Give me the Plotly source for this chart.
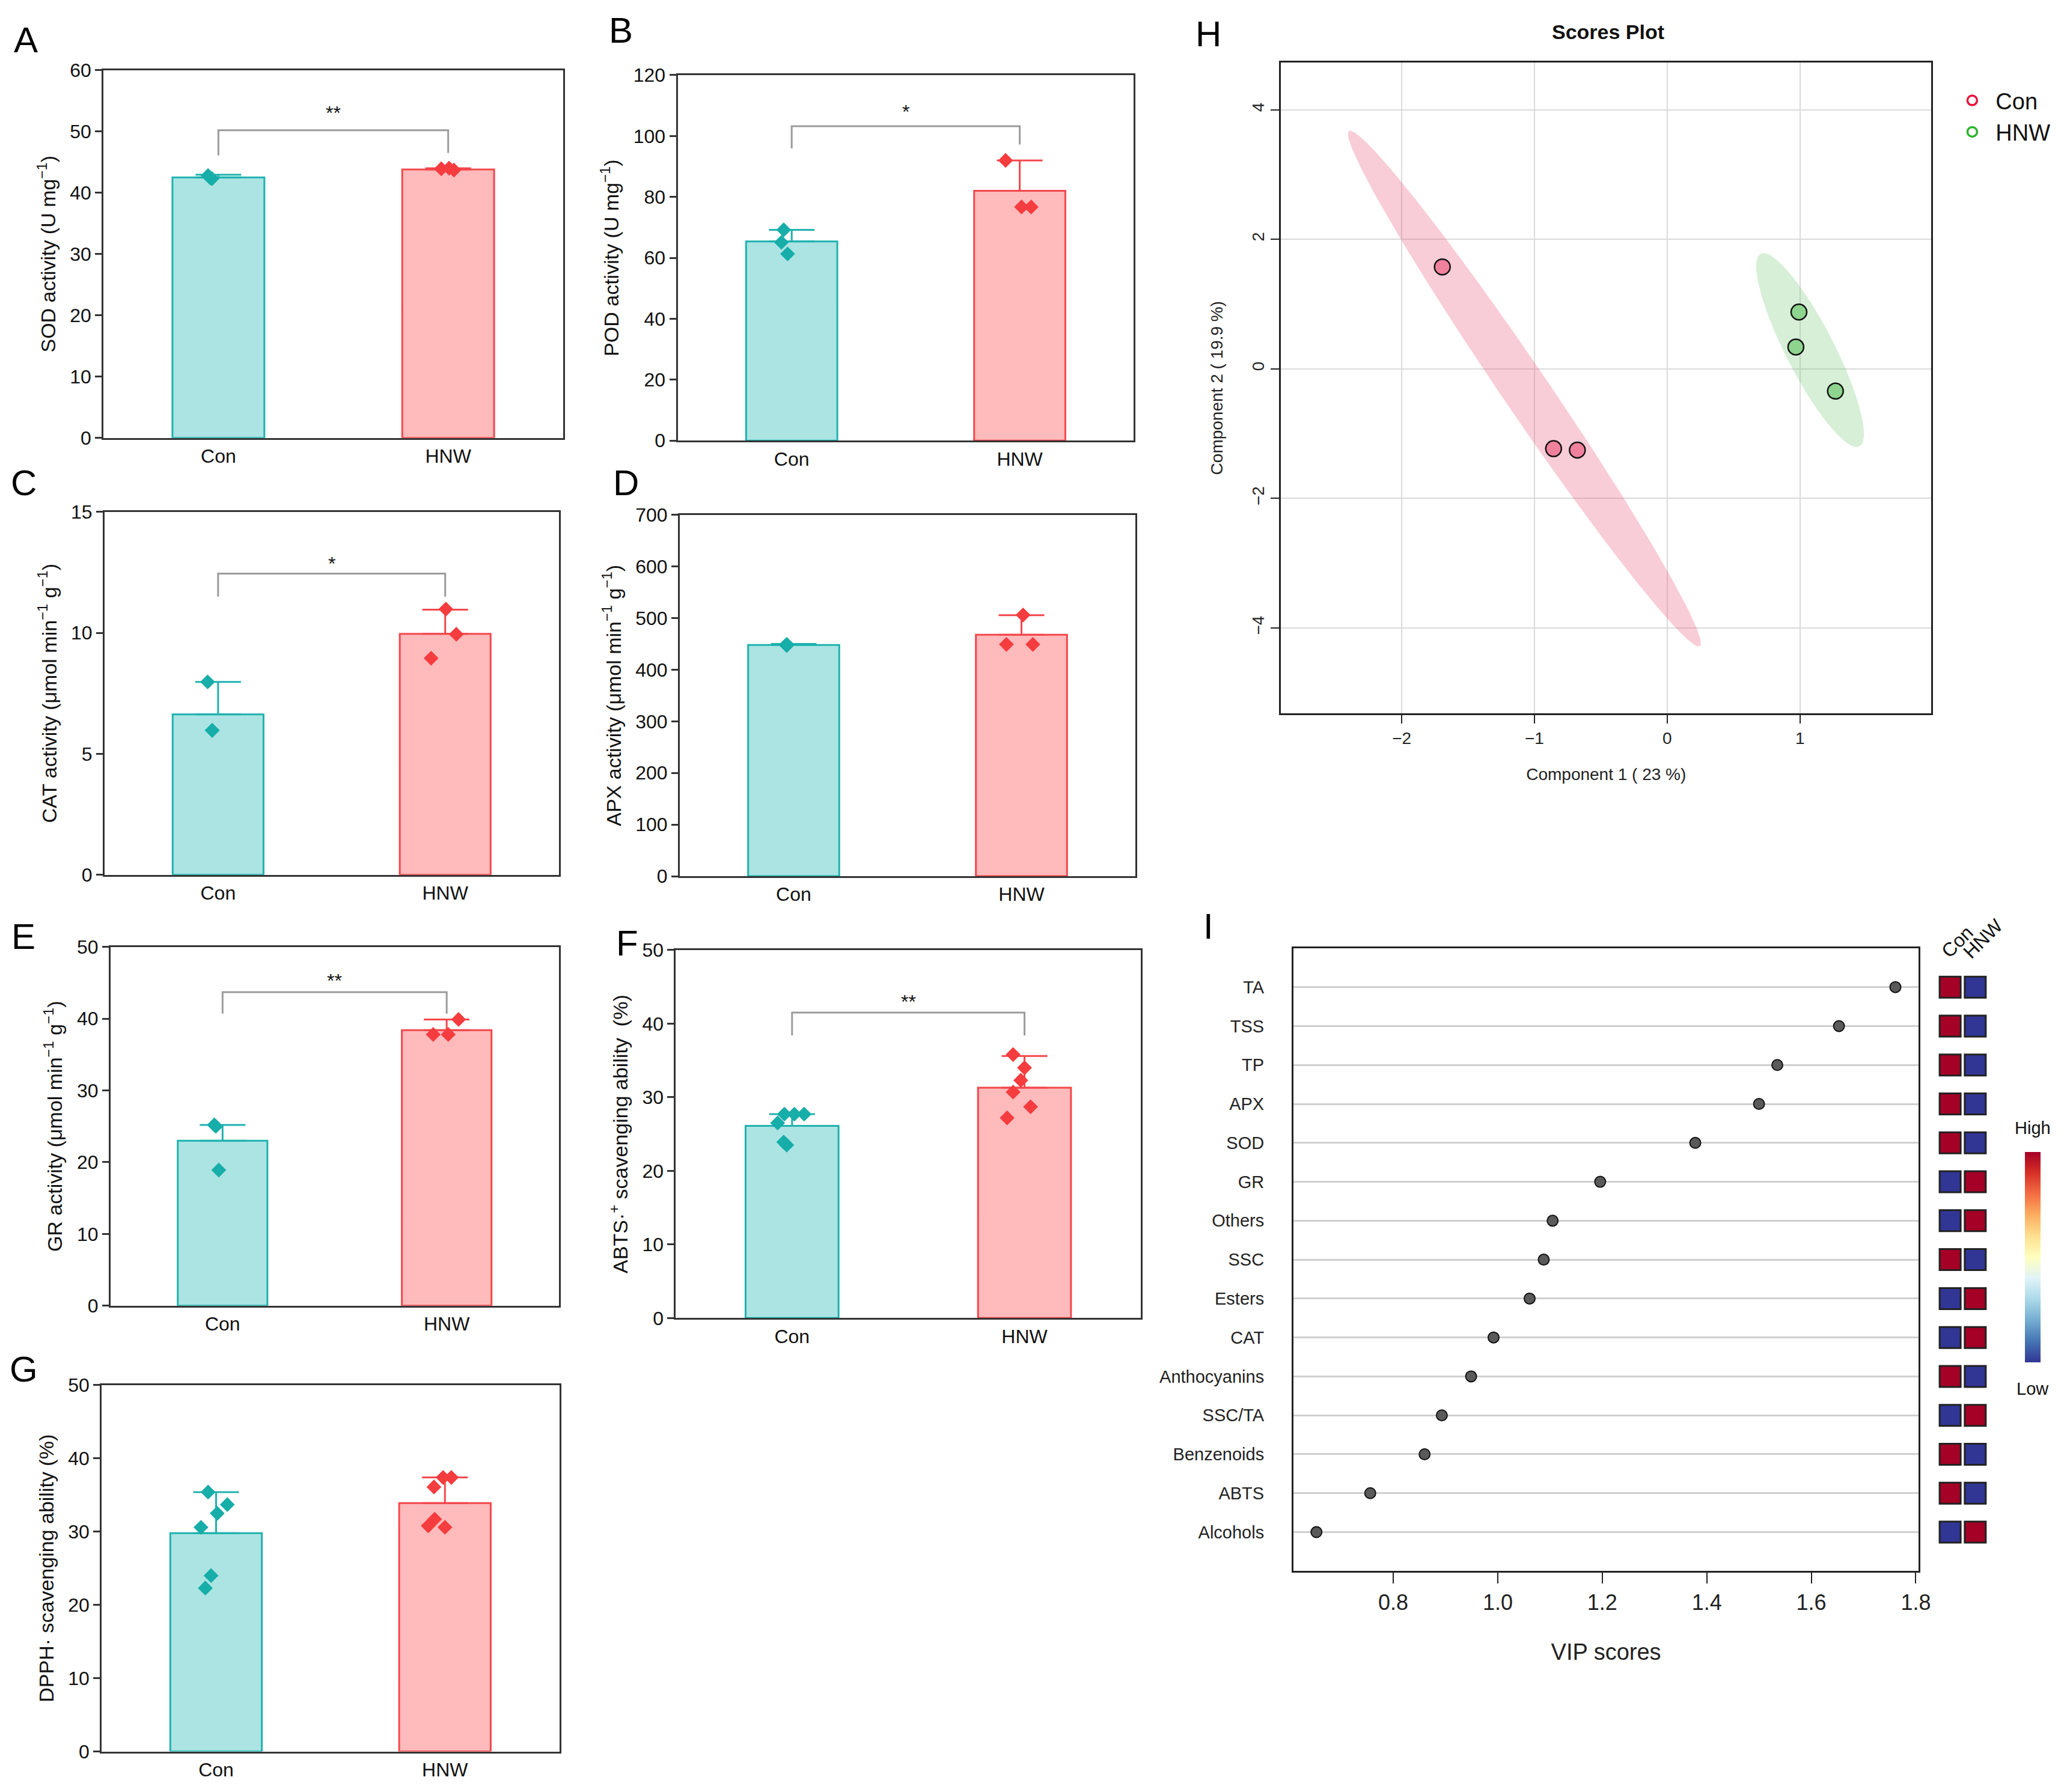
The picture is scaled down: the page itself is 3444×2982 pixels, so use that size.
import numpy as np
import plotly.graph_objects as go

# ---- data ----
groups = ['Con', 'HNW']

sod_mean = [42.5, 43.8]
sod_err = [0.45, 0.2]
sod_con = [42.8, 42.3, 42.4]
sod_hnw = [43.9, 44.0, 43.7]

pod_mean = [65.4, 82.0]
pod_err = [3.8, 10.0]
pod_con = [69.2, 65.1, 61.3]
pod_hnw = [92.0, 76.7, 76.7]

cat_mean = [6.63, 9.96]
cat_err = [1.34, 1.0]
cat_con = [7.97, 5.97, 5.97]
cat_hnw = [10.98, 9.94, 8.95]

apx_mean = [448, 467.7]
apx_err = [2, 38]
apx_con = [448, 447, 449]
apx_hnw = [506, 449, 449]

gr_mean = [23.0, 38.4]
gr_err = [2.2, 1.5]
gr_con = [25.2, 18.9, 25.0]
gr_hnw = [39.9, 37.8, 37.8]

abts_mean = [26.1, 31.3]
abts_err = [1.6, 4.3]
abts_con = [27.7, 27.7, 27.7, 26.5, 23.9, 23.5]
abts_hnw = [35.8, 34.0, 32.3, 30.7, 28.7, 27.2]

dpph_mean = [29.8, 33.9]
dpph_err = [5.6, 3.5]
dpph_con = [35.4, 33.7, 32.5, 30.6, 24.0, 22.3]
dpph_hnw = [37.4, 37.4, 36.1, 31.7, 30.8, 30.6]

# PLS-DA scores (panel H)
con_c1 = [-1.694, -0.856, -0.677]
con_c2 = [1.574, -1.233, -1.255]
hnw_c1 = [0.992, 0.969, 1.267]
hnw_c2 = [0.877, 0.337, -0.344]

# VIP scores (panel I)
vip_names = ['TA', 'TSS', 'TP', 'APX', 'SOD', 'GR', 'Others', 'SSC', 'Esters',
             'CAT', 'Anthocyanins', 'SSC/TA', 'Benzenoids', 'ABTS', 'Alcohols']
vip_scores = [1.761, 1.653, 1.535, 1.500, 1.378, 1.196, 1.105, 1.088, 1.061,
              0.992, 0.949, 0.893, 0.860, 0.756, 0.653]
heat_con = [1, 1, 1, 1, 1, 0, 0, 1, 0, 0, 1, 0, 1, 1, 0]
heat_hnw = [0, 0, 0, 0, 0, 1, 1, 0, 1, 1, 0, 1, 0, 0, 1]

# ---- styling ----
FONT = 'Liberation Sans, Arial, sans-serif'
NARROW = 'Liberation Sans Narrow, Liberation Sans, Arial, sans-serif'
bar_fill = ['#ABE4E3', '#FFBABB']
bar_edge = ['#1FB2AE', '#F4474C']
dot_col = ['#17ADA9', '#F53C3F']
bracket_col = '#9B9B9B'

bar_panels = [
    dict(letter='A', n=1, title='SOD activity (U mg<sup>−1</sup>)',
         mean=sod_mean, err=sod_err, pts=[sod_con, sod_hnw], ymax=60, dtick=10,
         jit=[[-0.045, -0.028, -0.035], [-0.03, 0.004, 0.025]],
         sig='**', sig_y=(46.1, 46.5, 50.2, 53.0),
         dom=([0.0503, 0.2736], [0.7587, 0.9665]), lab=(0.0125, 0.9834), font=FONT),
    dict(letter='B', n=2, title='POD activity (U mg<sup>−1</sup>)',
         mean=pod_mean, err=pod_err, pts=[pod_con, pod_hnw], ymax=120, dtick=20,
         jit=[[-0.035, -0.045, -0.018], [-0.062, 0.008, 0.05]],
         sig='*', sig_y=(95.9, 97.2, 103.2, 108.0),
         dom=([0.3293, 0.5509], [0.7572, 0.9637]), lab=(0.3017, 0.989), font=FONT),
    dict(letter='C', n=3, title='CAT activity (μmol min<sup>−1</sup> g<sup>−1</sup>)',
         mean=cat_mean, err=cat_err, pts=[cat_con, cat_hnw], ymax=15, dtick=5,
         jit=[[-0.046, -0.026, -0.026], [0.003, 0.049, -0.062]],
         sig='*', sig_y=(11.5, 11.5, 12.45, 12.85),
         dom=([0.0508, 0.2715], [0.512, 0.717]), lab=(0.0115, 0.7334), font=NARROW),
    dict(letter='D', n=4, title='APX activity (μmol min<sup>−1</sup> g<sup>−1</sup>)',
         mean=apx_mean, err=apx_err, pts=[apx_con, apx_hnw], ymax=700, dtick=100,
         jit=[[-0.033, -0.03, -0.03], [0.007, -0.066, 0.05]],
         sig=None, sig_y=None,
         dom=([0.3303, 0.5517], [0.5112, 0.7153]), lab=(0.3042, 0.7334), font=NARROW),
    dict(letter='E', n=5, title='GR activity (μmol min<sup>−1</sup> g<sup>−1</sup>)',
         mean=gr_mean, err=gr_err, pts=[gr_con, gr_hnw], ymax=50, dtick=10,
         jit=[[-0.037, -0.017, -0.03], [0.053, -0.06, 0.007]],
         sig='**', sig_y=(40.7, 40.7, 43.7, 45.3),
         dom=([0.0537, 0.2715], [0.2686, 0.4712]), lab=(0.0115, 0.4772), font=NARROW),
    dict(letter='F', n=6, title='ABTS·<sup>+</sup> scavenging ability  (%)',
         mean=abts_mean, err=abts_err, pts=[abts_con, abts_hnw], ymax=50, dtick=10,
         jit=[[-0.033, 0.01, 0.052, -0.062, -0.036, -0.023],
              [-0.049, 0.0, -0.016, -0.049, 0.026, -0.075]],
         sig='**', sig_y=(38.4, 38.4, 41.5, 43.0),
         dom=([0.3284, 0.5543], [0.2616, 0.4695]), lab=(0.3048, 0.4735), font=NARROW),
    dict(letter='G', n=7, title='DPPH· scavenging ability (%)',
         mean=dpph_mean, err=dpph_err, pts=[dpph_con, dpph_hnw], ymax=50, dtick=10,
         jit=[[-0.035, 0.049, 0.005, -0.066, -0.022, -0.047],
              [-0.008, 0.028, -0.048, -0.045, -0.073, 0.0]],
         sig=None, sig_y=None,
         dom=([0.0494, 0.2718], [0.0168, 0.2237]), lab=(0.0115, 0.2327), font=FONT),
]

fig = go.Figure()
layout_axes = {}
annotations = []


def axname(n, kind):
    return kind if n == 1 else '{}{}'.format(kind, n)


def paper_text(x, y, text, size, angle=0, color='#111'):
    return dict(x=x, y=y, xref='paper', yref='paper', text=text, showarrow=False,
                xanchor='center', yanchor='middle', textangle=angle,
                font=dict(size=size, color=color, family=FONT))


for p in bar_panels:
    xa = axname(p['n'], 'x')
    ya = axname(p['n'], 'y')
    for gi in range(2):
        fig.add_trace(go.Bar(
            x=[gi], y=[p['mean'][gi]], width=0.4,
            marker=dict(color=bar_fill[gi], line=dict(color=bar_edge[gi], width=3)),
            error_y=dict(type='data', symmetric=False, array=[p['err'][gi]], arrayminus=[0],
                         color=bar_edge[gi], thickness=3, width=38),
            xaxis=xa, yaxis=ya, showlegend=False, hoverinfo='skip'))
        fig.add_trace(go.Scatter(
            x=gi + np.array(p['jit'][gi]), y=p['pts'][gi], mode='markers',
            marker=dict(symbol='diamond', size=19, color=dot_col[gi]),
            xaxis=xa, yaxis=ya, showlegend=False, hoverinfo='skip'))
    if p['sig']:
        lo_c, lo_h, top, txt = p['sig_y']
        fig.add_trace(go.Scatter(
            x=[0, 0, 1, 1], y=[lo_c, top, top, lo_h], mode='lines',
            line=dict(color=bracket_col, width=3),
            xaxis=xa, yaxis=ya, showlegend=False, hoverinfo='skip'))
        annotations.append(dict(x=0.5, y=txt, xref=xa, yref=ya, text=p['sig'],
                                showarrow=False, xanchor='center', yanchor='middle',
                                font=dict(size=32, color='#111', family=FONT)))
    layout_axes[axname(p['n'], 'xaxis')] = dict(
        domain=p['dom'][0], anchor=ya, range=[-0.5, 1.5],
        tickvals=[0, 1], ticktext=groups, ticks='', showgrid=False, zeroline=False,
        showline=True, mirror=True, linecolor='#333', linewidth=3,
        tickfont=dict(size=32, color='#111', family=p['font']))
    layout_axes[axname(p['n'], 'yaxis')] = dict(
        domain=p['dom'][1], anchor=xa, range=[0, p['ymax']], dtick=p['dtick'],
        ticks='outside', ticklen=11, tickwidth=3, tickcolor='#333',
        showgrid=False, zeroline=False, showline=True, mirror=True,
        linecolor='#333', linewidth=3,
        tickfont=dict(size=32, color='#111', family=p['font']),
        title=dict(text=p['title'], font=dict(size=34, color='#111', family=FONT), standoff=14))
    annotations.append(paper_text(p['lab'][0], p['lab'][1], p['letter'], 60, color='#000'))


# ---- panel H: PLS-DA scores ----
def conf_ellipse(x, y, level=0.95, n=240):
    cov = np.cov(x, y)
    vals, vecs = np.linalg.eigh(cov)
    r = np.sqrt(-2 * np.log(1 - level))
    t = np.linspace(0, 2 * np.pi, n)
    circ = np.vstack([np.cos(t), np.sin(t)])
    pts = vecs @ (np.sqrt(vals)[:, None] * r * circ)
    return np.mean(x) + pts[0], np.mean(y) + pts[1]


h_groups = [
    ('Con', con_c1, con_c2, 'rgba(232,88,125,0.30)', '#F0819D', '#E8113A'),
    ('HNW', hnw_c1, hnw_c2, 'rgba(122,198,122,0.30)', '#8ED48E', '#2DB52D'),
]
for name, c1, c2, fillc, ptc, legc in h_groups:
    ex, ey = conf_ellipse(c1, c2)
    fig.add_trace(go.Scatter(x=ex, y=ey, mode='lines', fill='toself', fillcolor=fillc,
                             line=dict(width=0), xaxis='x8', yaxis='y8',
                             showlegend=False, hoverinfo='skip'))
for name, c1, c2, fillc, ptc, legc in h_groups:
    fig.add_trace(go.Scatter(x=c1, y=c2, mode='markers',
                             marker=dict(size=26, color=ptc, line=dict(color='#111', width=2.5)),
                             xaxis='x8', yaxis='y8', showlegend=False, hoverinfo='skip'))
    fig.add_trace(go.Scatter(x=[None], y=[None], mode='markers', name='\u2002' + name,
                             marker=dict(symbol='circle-open', size=16, color=legc,
                                         line=dict(width=3.5)),
                             xaxis='x8', yaxis='y8'))

layout_axes['xaxis8'] = dict(
    domain=[0.6224, 0.9385], anchor='y8', range=[-2.91, 1.99], tickvals=[-2, -1, 0, 1],
    showgrid=True, gridcolor='#DADADA', gridwidth=2, zeroline=False,
    showline=True, mirror=True, linecolor='#222', linewidth=3,
    ticks='outside', ticklen=14, tickwidth=2, tickcolor='#222',
    tickfont=dict(size=28, color='#222', family=FONT),
    title=dict(text='Component 1 ( 23 %)', font=dict(size=28, color='#222', family=FONT),
               standoff=36))
layout_axes['yaxis8'] = dict(
    domain=[0.6032, 0.9707], anchor='x8', range=[-5.32, 4.728], tickvals=[-4, -2, 0, 2, 4],
    showgrid=True, gridcolor='#DADADA', gridwidth=2, zeroline=False,
    showline=True, mirror=True, linecolor='#222', linewidth=3,
    ticks='outside', ticklen=14, tickwidth=2, tickcolor='#222', tickangle=-90,
    tickfont=dict(size=28, color='#222', family=FONT),
    title=dict(text='Component 2 ( 19.9 %)', font=dict(size=28, color='#222', family=FONT),
               standoff=36))
annotations.append(paper_text(0.7814, 0.988, '<b>Scores Plot</b>', 34))
annotations.append(paper_text(0.5871, 0.987, 'H', 60, color='#000'))

# ---- panel I: VIP scores + heat squares ----
fig.add_trace(go.Scatter(x=vip_scores, y=vip_names, mode='markers',
                         marker=dict(size=18, color='#5A5A5A', line=dict(color='#111', width=2)),
                         xaxis='x9', yaxis='y9', showlegend=False, hoverinfo='skip'))
fig.add_trace(go.Scatter(
    x=['Con'] * len(vip_names) + ['HNW'] * len(vip_names), y=vip_names + vip_names,
    mode='markers',
    marker=dict(symbol='square', size=35, color=heat_con + heat_hnw,
                colorscale='RdYlBu_r', cmin=0, cmax=1, line=dict(color='#222', width=3),
                showscale=True,
                colorbar=dict(x=0.9877, y=0.296, xanchor='center', yanchor='middle',
                              len=0.1255, lenmode='fraction', thickness=26,
                              showticklabels=False, ticks='', outlinewidth=0)),
    xaxis='x10', yaxis='y10', showlegend=False, hoverinfo='skip'))

cat_order = vip_names[::-1]
layout_axes['xaxis9'] = dict(
    domain=[0.6285, 0.9323], anchor='y9', range=[0.609, 1.8055],
    tickvals=[0.8, 1.0, 1.2, 1.4, 1.6, 1.8], tickformat='.1f',
    showgrid=False, zeroline=False, showline=True, mirror=True,
    linecolor='#222', linewidth=3, ticks='outside', ticklen=18, tickwidth=2, tickcolor='#222',
    tickfont=dict(size=36, color='#222', family=FONT),
    title=dict(text='VIP scores', font=dict(size=38, color='#222', family=FONT), standoff=50))
layout_axes['yaxis9'] = dict(
    domain=[0.1187, 0.4705], anchor='x9', type='category',
    categoryorder='array', categoryarray=cat_order, range=[-1, len(vip_names)],
    showgrid=True, gridcolor='#CFCFCF', gridwidth=3, zeroline=False,
    showline=True, mirror=True, linecolor='#222', linewidth=3, ticks='',
    ticklabelstandoff=40, tickfont=dict(size=29, color='#222', family=FONT))
layout_axes['xaxis10'] = dict(domain=[0.9415, 0.9659], anchor='y10', type='category',
                              categoryorder='array', categoryarray=groups,
                              range=[-0.5, 1.5], visible=False)
layout_axes['yaxis10'] = dict(domain=[0.1187, 0.4705], anchor='x10', type='category',
                              categoryorder='array', categoryarray=cat_order,
                              range=[-1, len(vip_names)], visible=False)
annotations += [
    paper_text(0.9511, 0.4742, 'Con', 32, angle=-45),
    paper_text(0.9636, 0.4758, 'HNW', 32, angle=-45),
    paper_text(0.9878, 0.3689, 'High', 29),
    paper_text(0.9878, 0.2217, 'Low', 29),
    paper_text(0.5871, 0.4829, 'I', 60, color='#000'),
]

fig.update_layout(
    width=3444, height=2982, margin=dict(l=0, r=0, t=0, b=0),
    paper_bgcolor='white', plot_bgcolor='white', barmode='overlay',
    font=dict(family=FONT, color='#111'),
    legend=dict(x=0.9525, y=0.960, xanchor='left', yanchor='top',
                font=dict(size=38, color='#111', family=FONT),
                bgcolor='rgba(0,0,0,0)', tracegroupgap=0),
    annotations=annotations,
    **layout_axes)

fig.write_html("out.html", config={'displayModeBar': False},
               post_script="document.body.style.margin='0px';")
